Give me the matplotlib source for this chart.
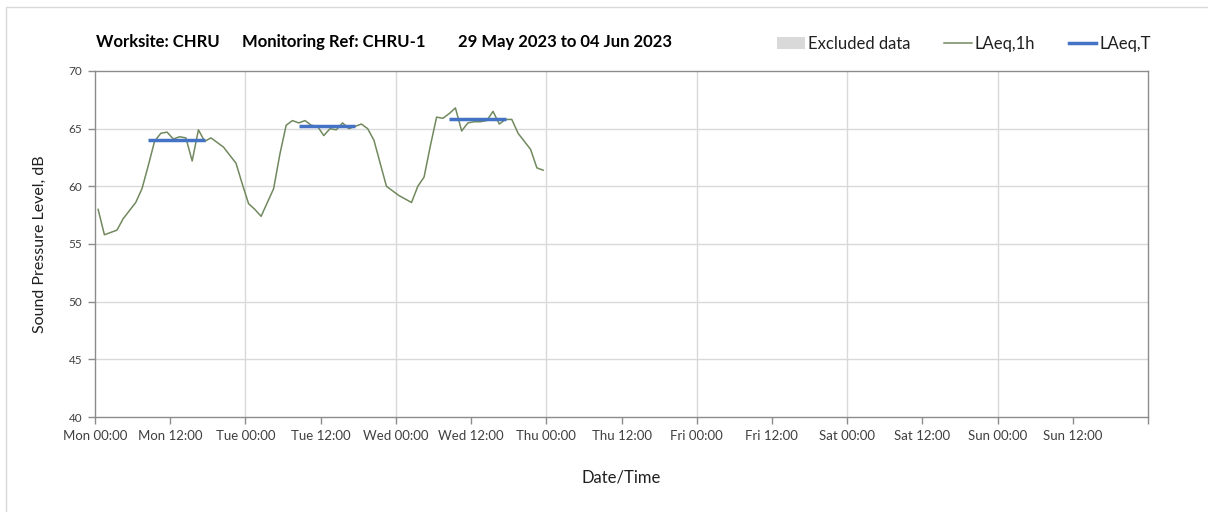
import matplotlib
matplotlib.use("Agg")
import matplotlib.pyplot as plt
from matplotlib.patches import Rectangle, Patch
from matplotlib.lines import Line2D

plt.rcParams['font.family'] = ['Lato', 'DejaVu Sans']

# hourly LAeq,1h values (plotted at mid-hour), Mon 00:00 = hour 0
laeq_1h = [58.0, 55.8, 56.0, 56.2, 57.2, 57.9, 58.6, 59.8, 61.8, 63.9,
           64.6, 64.7, 64.1, 64.3, 64.2, 62.2, 64.9, 63.9, 64.2, 63.8,
           63.4, 62.7, 62.0, 60.2, 58.5, 58.0, 57.4, 58.6, 59.8, 62.8,
           65.3, 65.7, 65.5, 65.7, 65.3, 65.2, 64.4, 65.0, 64.9, 65.5,
           65.0, 65.2, 65.4, 65.0, 64.0, 62.0, 60.0, 59.6, 59.2, 58.9,
           58.6, 60.0, 60.8, 63.5, 66.0, 65.9, 66.3, 66.8, 64.8, 65.5,
           65.6, 65.6, 65.7, 66.5, 65.4, 65.8, 65.8, 64.6, 63.9, 63.2,
           61.6, 61.4]
hours_1h = [h + 0.5 for h in range(len(laeq_1h))]

# LAeq,T daytime periods (start hour, end hour, level)
laeqT_start = [8.5, 32.5, 56.5]
laeqT_end = [17.5, 41.5, 65.5]
laeqT_val = [64.0, 65.2, 65.8]

tick_hours = list(range(0, 169, 12))[:-1]
tick_labels = ["Mon 00:00", "Mon 12:00", "Tue 00:00", "Tue 12:00", "Wed 00:00",
               "Wed 12:00", "Thu 00:00", "Thu 12:00", "Fri 00:00", "Fri 12:00",
               "Sat 00:00", "Sat 12:00", "Sun 00:00", "Sun 12:00"]
y_ticks = [40, 45, 50, 55, 60, 65, 70]

W, H = 1208, 512
fig = plt.figure(figsize=(W / 100, H / 100), dpi=100)
fig.patch.set_facecolor('white')

# outer chart border
fig.add_artist(Rectangle((6 / W, -0.1), 1.2, (H - 7) / H + 0.1,
                         transform=fig.transFigure, fill=False,
                         edgecolor='#d9d9d9', linewidth=1.0))

ax = fig.add_axes([95 / W, 1 - 417 / H, (1148 - 95) / W, (417 - 71) / H])
ax.set_xlim(0, 168)
ax.set_ylim(40, 70)

green = '#71895e'
blue = '#4472c4'

ax.plot(hours_1h, laeq_1h, color=green, linewidth=1.1, zorder=3)
for s, e, v in zip(laeqT_start, laeqT_end, laeqT_val):
    ax.plot([s, e], [v, v], color=blue, linewidth=2.5, zorder=4,
            solid_capstyle='butt')

# grid
for y in y_ticks[1:-1]:
    ax.axhline(y, color='#d9d9d9', linewidth=1.0, zorder=1)
for x in range(24, 168, 24):
    ax.axvline(x, color='#d9d9d9', linewidth=1.0, zorder=1)

for side in ['left', 'bottom', 'top', 'right']:
    ax.spines[side].set_color('#8c8c8c')
    ax.spines[side].set_linewidth(1.0)

ax.set_yticks(y_ticks)
ax.set_yticklabels([str(v) for v in y_ticks], fontsize=8.5, color='#404040')
ax.set_xticks(tick_hours + [168])
ax.set_xticklabels(tick_labels + [""], fontsize=9.5, color='#404040')
ax.tick_params(axis='both', length=5, width=1.0, color='#8c8c8c', direction='out')
ax.tick_params(axis='x', pad=4)
ax.tick_params(axis='y', pad=4)

ax.set_ylabel("Sound Pressure Level, dB", fontsize=11.5, color='#202020', labelpad=16)
ax.set_xlabel("Date/Time", fontsize=12, color='#202020', labelpad=20)

# title pieces
ty = 1 - 42 / H
fig.text(96 / W, ty, "Worksite: CHRU", fontsize=12, fontweight='bold', va='center')
fig.text(242 / W, ty, "Monitoring Ref: CHRU-1", fontsize=12, fontweight='bold', va='center')
fig.text(458 / W, ty, "29 May 2023 to 04 Jun 2023", fontsize=12, fontweight='bold', va='center')

handles = [Patch(facecolor='#d9d9d9', edgecolor='none'),
           Line2D([], [], color=green, linewidth=1.1),
           Line2D([], [], color=blue, linewidth=2.5)]
fig.legend(handles, ["Excluded data", "LAeq,1h", "LAeq,T"], ncol=3,
           loc='center right', bbox_to_anchor=(1166 / W, 1 - 44 / H),
           frameon=False, fontsize=12, handlelength=1.65, handletextpad=0.2,
           columnspacing=2.0, labelcolor='#202020')

fig.savefig("out.png", dpi=100, facecolor='white')
